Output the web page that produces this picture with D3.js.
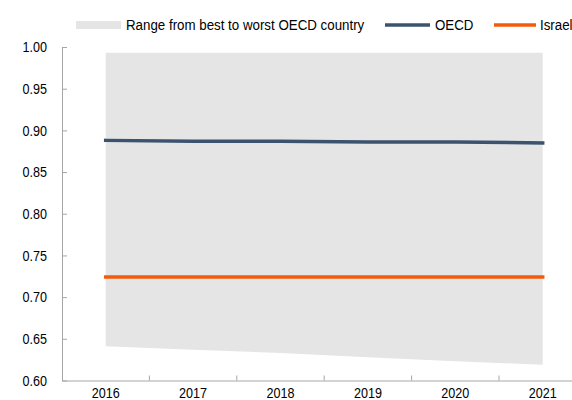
<!DOCTYPE html>
<html>
<head>
<meta charset="utf-8">
<script src="https://cdn.jsdelivr.net/npm/d3@7"></script>
<style>
  body { margin: 0; background: #fff; }
  text { font-family: "Liberation Sans", Arial, sans-serif; fill: #000; }
</style>
</head>
<body>
<div id="chart"></div>
<script>
// Data
var years = ["2016", "2017", "2018", "2019", "2020", "2021"];
var rangeHigh = [0.993, 0.993, 0.993, 0.993, 0.993, 0.993];
var rangeLow = [0.641, 0.637, 0.633, 0.628, 0.623, 0.619];
var oecd = [0.888, 0.887, 0.887, 0.886, 0.886, 0.885];
var israel = [0.724, 0.724, 0.724, 0.724, 0.724, 0.724];
var yTicks = [0.60, 0.65, 0.70, 0.75, 0.80, 0.85, 0.90, 0.95, 1.00];
var legendNames = ["Range from best to worst OECD country", "OECD", "Israel"];

var svgWidth = 572;
var svgHeight = 400;

var colors = { range: "#e5e5e5", oecd: "#3b536e", israel: "#f35b0b", axis: "#a6a6a6" };

// the original uses a narrow font, squeeze the text horizontally
function narrow(sel, k) {
  sel.each(function() {
    var t = d3.select(this);
    var x0 = +t.attr("x") || 0;
    t.attr("x", x0 / k).attr("transform", "scale(" + k + ",1)");
  });
}

var svg = d3.select("#chart")
  .append("svg")
  .attr("width", svgWidth)
  .attr("height", svgHeight);

// Scales (band runs past the right edge, the original is cropped)
var x = d3.scaleBand()
  .domain(years)
  .range([62, 586.4])
  .padding(0);

var y = d3.scaleLinear()
  .domain([0.6, 1.0])
  .range([380.5, 47]);

var cx = function(i) { return x(years[i]) + x.bandwidth() / 2; };

// Range area
var area = d3.area()
  .x(function(d, i) { return cx(i); })
  .y0(function(d, i) { return y(rangeLow[i]); })
  .y1(function(d, i) { return y(rangeHigh[i]); });

svg.append("path")
  .datum(years)
  .attr("d", area)
  .attr("fill", colors.range);

// Lines
var line = d3.line()
  .x(function(d, i) { return cx(i); })
  .y(function(d) { return y(d); });

svg.append("path")
  .datum(oecd)
  .attr("d", line)
  .attr("fill", "none")
  .attr("stroke", colors.oecd)
  .attr("stroke-width", 3.5)
  .attr("stroke-linecap", "square");

svg.append("path")
  .datum(israel)
  .attr("d", line)
  .attr("fill", "none")
  .attr("stroke", colors.israel)
  .attr("stroke-width", 3.5)
  .attr("stroke-linecap", "square");

// Y axis, ticks point inward
var yAxis = svg.append("g")
  .attr("transform", "translate(62,0)")
  .call(d3.axisLeft(y)
    .tickValues(yTicks)
    .tickFormat(d3.format(".2f"))
    .tickSizeInner(-5)
    .tickSizeOuter(0)
    .tickPadding(15));

yAxis.selectAll("text").style("font-size", "15px").call(narrow, 0.84);

// X axis, ticks sit on the band edges
var xAxis = svg.append("g")
  .attr("transform", "translate(0,380.5)")
  .call(d3.axisBottom(x)
    .tickSizeInner(-5)
    .tickSizeOuter(0)
    .tickPadding(7));

xAxis.selectAll(".tick line")
  .attr("x1", x.bandwidth() / 2)
  .attr("x2", x.bandwidth() / 2);

xAxis.selectAll("text").style("font-size", "15px").call(narrow, 0.84);

svg.selectAll(".domain, .tick line").attr("stroke", colors.axis);
svg.selectAll(".tick text").attr("fill", "#000");

// Legend (the last label is cropped by the right edge, as in the original)
var legend = svg.append("g").attr("class", "legend");

legend.append("rect")
  .attr("x", 76).attr("y", 21)
  .attr("width", 45).attr("height", 8)
  .attr("fill", colors.range);
legend.append("text")
  .attr("x", 126).attr("y", 30)
  .style("font-size", "15.5px")
  .text(legendNames[0]);

legend.append("line")
  .attr("x1", 385).attr("x2", 430)
  .attr("y1", 25).attr("y2", 25)
  .attr("stroke", colors.oecd).attr("stroke-width", 3.5);
legend.append("text")
  .attr("x", 435).attr("y", 30)
  .style("font-size", "15.5px")
  .text(legendNames[1]);

legend.append("line")
  .attr("x1", 494).attr("x2", 536)
  .attr("y1", 25).attr("y2", 25)
  .attr("stroke", colors.israel).attr("stroke-width", 3.5);
legend.append("text")
  .attr("x", 540).attr("y", 30)
  .style("font-size", "15.5px")
  .text(legendNames[2]);

legend.selectAll("text").call(narrow, 0.86);
</script>
</body>
</html>
